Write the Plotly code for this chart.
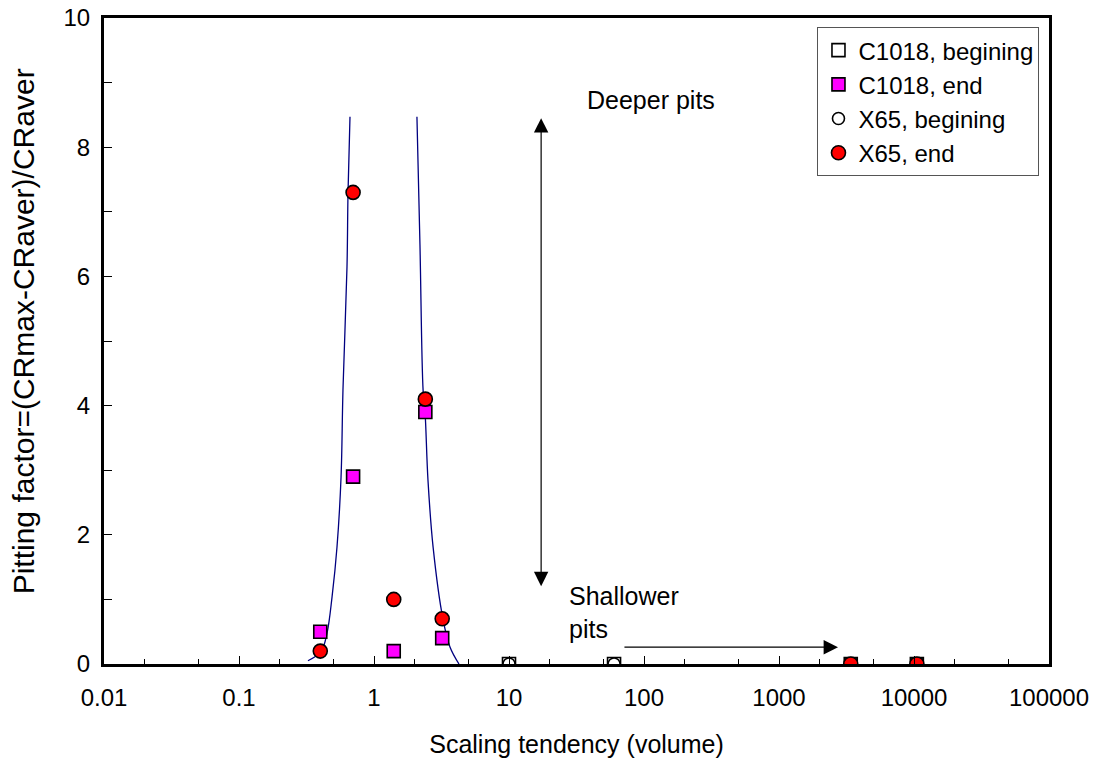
import plotly.graph_objects as go

# ---------------- data ----------------
c1018_begin_x = [10, 60]
c1018_begin_y = [0, 0]
c1018_end_x = [0.4, 0.7, 1.4, 2.4, 3.2, 3400, 10500]
c1018_end_y = [0.5, 2.9, 0.2, 3.9, 0.4, 0, 0]
x65_begin_x = [10, 60]
x65_begin_y = [0, 0]
x65_end_x = [0.4, 0.7, 1.4, 2.4, 3.2, 3400, 10500]
x65_end_y = [0.2, 7.3, 1.0, 4.1, 0.7, 0, 0]

# trend curves
left_curve_x = [0.324, 0.405, 0.449, 0.489, 0.532, 0.570, 0.589, 0.631, 0.642, 0.664]
left_curve_y = [0.05, 0.19, 0.48, 1.04, 1.81, 2.89, 4.24, 6.15, 7.29, 8.47]
right_curve_x = [2.08, 2.19, 2.31, 2.39, 2.51, 2.74, 3.24, 3.66, 4.26]
right_curve_y = [8.47, 6.49, 4.24, 3.89, 2.85, 1.81, 0.70, 0.26, 0.0]

x_tickvals = [0.01, 0.1, 1, 10, 100, 1000, 10000, 100000]
x_ticktext = ["0.01", "0.1", "1", "10", "100", "1000", "10000", "100000"]
y_tickvals = [0, 2, 4, 6, 8, 10]

FONT = "Liberation Sans, Arial, sans-serif"

fig = go.Figure()

fig.add_trace(go.Scatter(x=left_curve_x, y=left_curve_y, mode="lines", line=dict(color="#000080", width=1.3, shape="spline"),
                         showlegend=False, hoverinfo="skip"))
fig.add_trace(go.Scatter(x=right_curve_x, y=right_curve_y, mode="lines", line=dict(color="#000080", width=1.3, shape="spline"),
                         showlegend=False, hoverinfo="skip"))

fig.add_trace(go.Scatter(x=c1018_begin_x, y=c1018_begin_y, mode="markers", name="C1018, begining",
                         marker=dict(symbol="square", size=13, color="white", line=dict(color="black", width=1.6))))
end_colors = ["#FF00FF"] * 5 + ["#222222"] * 2
fig.add_trace(go.Scatter(x=c1018_end_x, y=c1018_end_y, mode="markers", name="C1018, end",
                         marker=dict(symbol="square", size=13, color=end_colors, line=dict(color="black", width=1.6))))
fig.add_trace(go.Scatter(x=x65_begin_x, y=x65_begin_y, mode="markers", name="X65, begining",
                         marker=dict(symbol="circle", size=12, color="white", line=dict(color="black", width=1.6))))
fig.add_trace(go.Scatter(x=x65_end_x, y=x65_end_y, mode="markers", name="X65, end",
                         marker=dict(symbol="circle", size=14, color="#FF0000", line=dict(color="black", width=1.6))))

# annotations: arrows and texts
fig.add_annotation(x=1.238, y=8.45, ax=1.238, ay=1.18, xref="x", yref="y", axref="x", ayref="y",
                   text="", showarrow=True, arrowhead=2, arrowside="end+start", arrowsize=2.4, arrowwidth=1.2, arrowcolor="black")
fig.add_annotation(x=3.437, y=0.26, ax=1.844, ay=0.26, xref="x", yref="y", axref="x", ayref="y",
                   text="", showarrow=True, arrowhead=2, arrowsize=2.4, arrowwidth=1.2, arrowcolor="black")
fig.add_annotation(x=1.56, y=8.73, xref="x", yref="y", text="Deeper pits", showarrow=False, xanchor="left",
                   font=dict(family=FONT, size=25, color="black"))
fig.add_annotation(x=1.43, y=0.8, xref="x", yref="y", text="Shallower<br>pits", showarrow=False, xanchor="left",
                   align="left", font=dict(family=FONT, size=25, color="black"))
# y-axis title
fig.add_annotation(x=-0.0857, y=0.515, xref="paper", yref="paper", text="Pitting factor=(CRmax-CRaver)/CRaver",
                   textangle=-90, showarrow=False, xanchor="center", yanchor="middle",
                   font=dict(family=FONT, size=30, color="black"))

fig.update_layout(
    width=1099, height=776,
    margin=dict(l=104, r=50, t=18, b=112, autoexpand=False),
    paper_bgcolor="white", plot_bgcolor="white",
    font=dict(family=FONT, size=24, color="black"),
    legend=dict(x=0.755, y=0.986, xanchor="left", yanchor="top", bgcolor="white",
                bordercolor="#555555", borderwidth=1, font=dict(size=24), itemwidth=30,
                tracegroupgap=0),
    showlegend=True,
)
fig.update_xaxes(type="log", range=[-2, 5], tickvals=x_tickvals, ticktext=x_ticktext, automargin=False,
                 ticks="inside", ticklen=8, tickwidth=1, tickcolor="black", ticklabelstandoff=10,
                 minor=dict(ticks="inside", ticklen=5, tickcolor="black", showgrid=False),
                 showline=True, linecolor="black", linewidth=3, mirror=True, showgrid=False, zeroline=False,
                 title=dict(text="Scaling tendency (volume)", font=dict(size=25), standoff=26),
                 tickfont=dict(size=24))
fig.update_yaxes(range=[0, 10], tickvals=y_tickvals, ticks="inside", ticklen=8, tickwidth=1, tickcolor="black",
                 ticklabelstandoff=6, automargin=False,
                 minor=dict(ticks="inside", ticklen=8, dtick=1, tickcolor="black", showgrid=False),
                 showline=True, linecolor="black", linewidth=3, mirror=True, showgrid=False, zeroline=False,
                 tickfont=dict(size=24))

fig.write_html("out.html")
